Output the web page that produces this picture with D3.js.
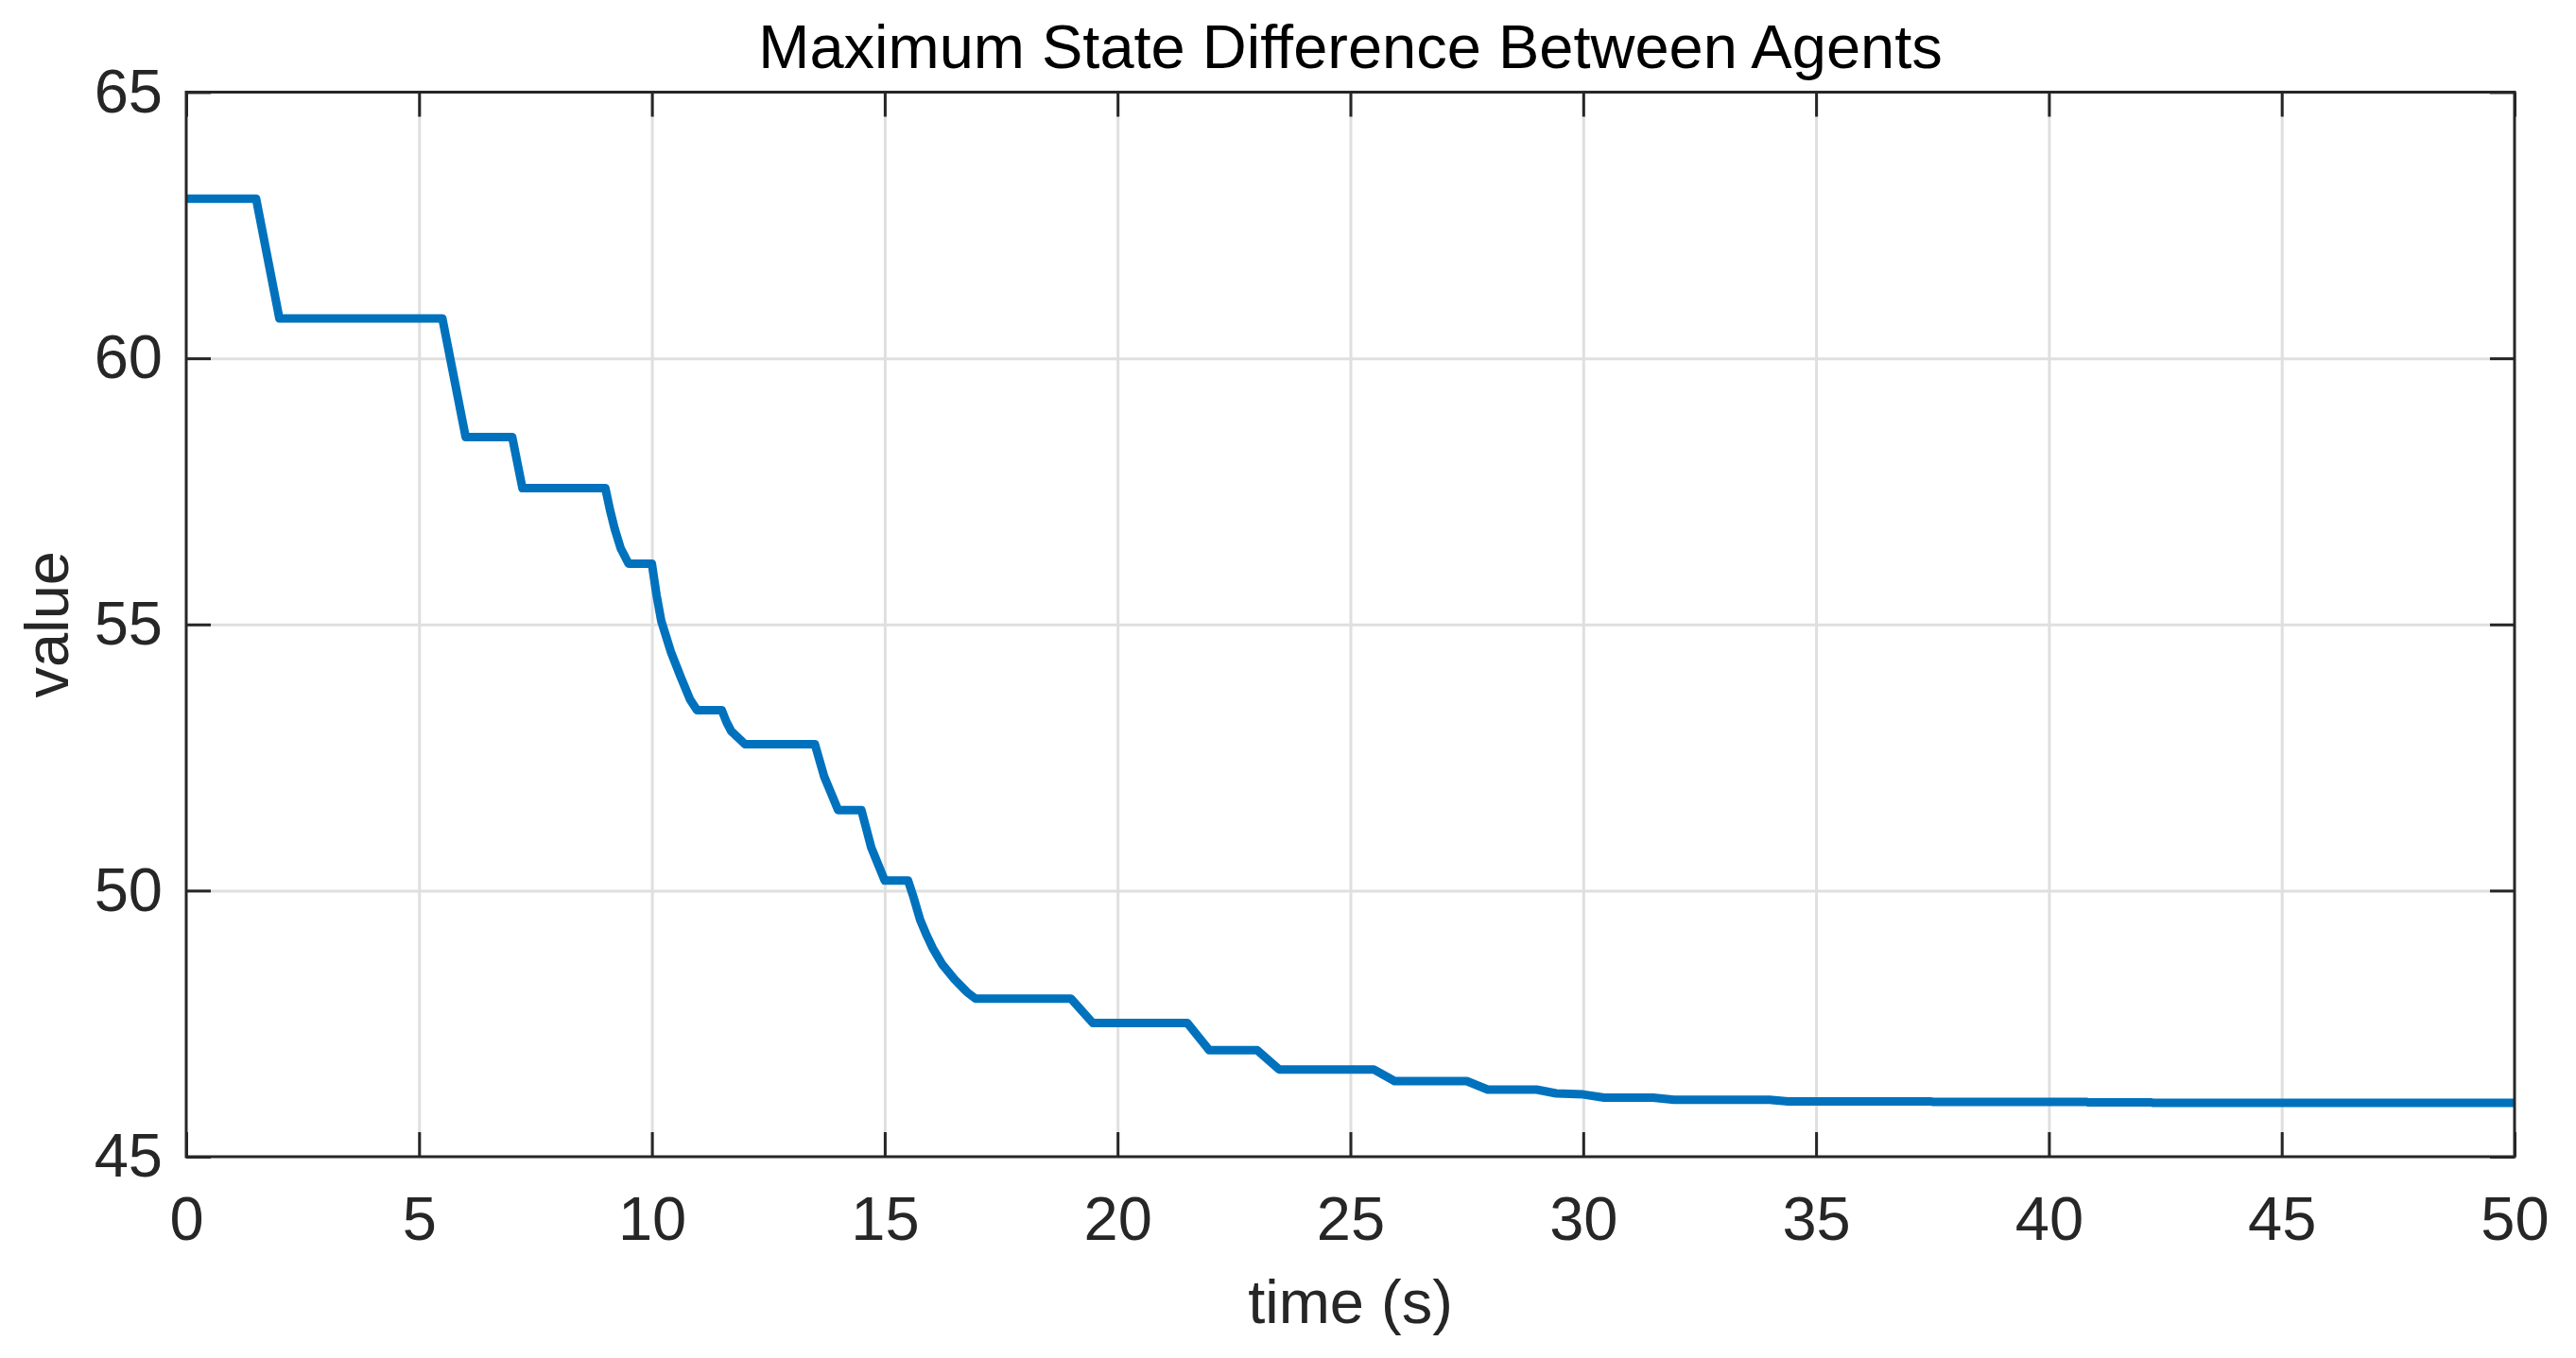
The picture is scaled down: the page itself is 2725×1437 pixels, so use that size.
<!DOCTYPE html>
<html>
<head>
<meta charset="utf-8">
<script src="https://cdn.jsdelivr.net/npm/d3@7"></script>
<style>
  html, body { margin: 0; padding: 0; background: #fff; }
  svg { display: block; }
  text { font-family: "Liberation Sans", Arial, Helvetica, sans-serif; }
</style>
</head>
<body>
<svg id="chart" width="2725" height="1437"></svg>
<script>
// ---- data ----
const titleText = "Maximum State Difference Between Agents";
const xLabelText = "time (s)";
const yLabelText = "value";
const xTicks = [0, 5, 10, 15, 20, 25, 30, 35, 40, 45, 50];
const yTicks = [45, 50, 55, 60, 65];
const timeValues = [
  0, 1.5, 2.0, 5.5, 6.0, 7.0, 7.22, 9.0, 9.1, 9.2, 9.33, 9.5,
  10.0, 10.1, 10.2, 10.41, 10.62, 10.82, 10.97, 11.5, 11.6, 11.7, 12.0,
  13.5, 13.7, 14.0, 14.5, 14.71, 15.0,
  15.5, 15.62, 15.76, 15.9, 16.03, 16.23, 16.5, 16.77, 16.95,
  19.0, 19.47, 21.5, 21.97, 23.0, 23.47, 25.5, 25.95, 27.5, 27.95,
  29.0, 29.42, 30.0, 30.45, 31.5, 31.95, 34.0, 34.4, 37.45, 37.5,
  40.8, 40.85, 42.2, 42.25, 50
];
const stateDiff = [
  63.0, 63.0, 60.75, 60.75, 58.52, 58.52, 57.56, 57.56, 57.15, 56.8, 56.43, 56.14,
  56.14, 55.55, 55.07, 54.48, 54.01, 53.59, 53.39, 53.39, 53.17, 53.0, 52.75,
  52.75, 52.14, 51.51, 51.51, 50.81, 50.19,
  50.19, 49.87, 49.45, 49.16, 48.92, 48.62, 48.33, 48.09, 47.97,
  47.97, 47.51, 47.51, 47.0, 47.0, 46.64, 46.64, 46.42, 46.42, 46.26,
  46.26, 46.19, 46.17, 46.11, 46.11, 46.07, 46.07, 46.04, 46.04, 46.03,
  46.03, 46.02, 46.02, 46.01, 46.01
];

// ---- layout ----
const W = 2725, H = 1437;
const margin = { left: 197, right: W - 2660, top: 97.5, bottom: H - 1224 };
const iw = W - margin.left - margin.right;
const ih = H - margin.top - margin.bottom;
const axisColor = "#262626";
const fontSize = 65;
const tickLen = 26;

const svg = d3.select("#chart");
const g = svg.append("g").attr("transform", `translate(${margin.left},${margin.top})`);

const x = d3.scaleLinear().domain([0, 50]).range([0, iw]);
const y = d3.scaleLinear().domain([45, 65]).range([ih, 0]);

// grid
const gridX = g.append("g").attr("transform", `translate(0,${ih})`)
  .call(d3.axisBottom(x).tickValues(xTicks.slice(1, -1)).tickSize(-ih).tickFormat(""));
const gridY = g.append("g")
  .call(d3.axisLeft(y).tickValues(yTicks.slice(1, -1)).tickSize(-iw).tickFormat(""));
[gridX, gridY].forEach(s => {
  s.select(".domain").remove();
  s.selectAll("line").attr("stroke", "#dfdfdf").attr("stroke-width", 3);
});

// data line
const pts = timeValues.map((t, i) => [t, stateDiff[i]]);
g.append("path")
  .datum(pts)
  .attr("fill", "none")
  .attr("stroke", "#0072BD")
  .attr("stroke-width", 9)
  .attr("stroke-linejoin", "round")
  .attr("d", d3.line().x(d => x(d[0])).y(d => y(d[1])));

// axes with inward ticks on all sides
function styleAxis(s) {
  s.select(".domain").remove();
  s.selectAll(".tick line").attr("stroke", axisColor).attr("stroke-width", 3);
  s.selectAll("text").attr("fill", axisColor).attr("font-size", fontSize);
}
const xAxis = g.append("g").attr("transform", `translate(0,${ih})`)
  .call(d3.axisBottom(x).tickValues(xTicks).tickSize(-tickLen).tickPadding(42).tickFormat(d3.format("d")));
styleAxis(xAxis);
const xAxisTop = g.append("g")
  .call(d3.axisTop(x).tickValues(xTicks).tickSize(-tickLen).tickFormat(""));
styleAxis(xAxisTop);
const yAxis = g.append("g")
  .call(d3.axisLeft(y).tickValues(yTicks).tickSize(-tickLen).tickPadding(25).tickFormat(d3.format("d")));
styleAxis(yAxis);
const yAxisRight = g.append("g").attr("transform", `translate(${iw},0)`)
  .call(d3.axisRight(y).tickValues(yTicks).tickSize(-tickLen).tickFormat(""));
styleAxis(yAxisRight);

// box
g.append("rect")
  .attr("x", 0).attr("y", 0).attr("width", iw).attr("height", ih)
  .attr("fill", "none").attr("stroke", axisColor).attr("stroke-width", 3);

// title and labels
svg.append("text")
  .attr("x", margin.left + iw / 2).attr("y", 72)
  .attr("text-anchor", "middle").attr("font-size", fontSize).attr("fill", "#000")
  .text(titleText);
svg.append("text")
  .attr("x", margin.left + iw / 2).attr("y", 1400)
  .attr("text-anchor", "middle").attr("font-size", fontSize).attr("fill", axisColor)
  .text(xLabelText);
svg.append("text")
  .attr("transform", `translate(72,${margin.top + ih / 2}) rotate(-90)`)
  .attr("text-anchor", "middle").attr("font-size", fontSize).attr("fill", axisColor)
  .text(yLabelText);
</script>
</body>
</html>
